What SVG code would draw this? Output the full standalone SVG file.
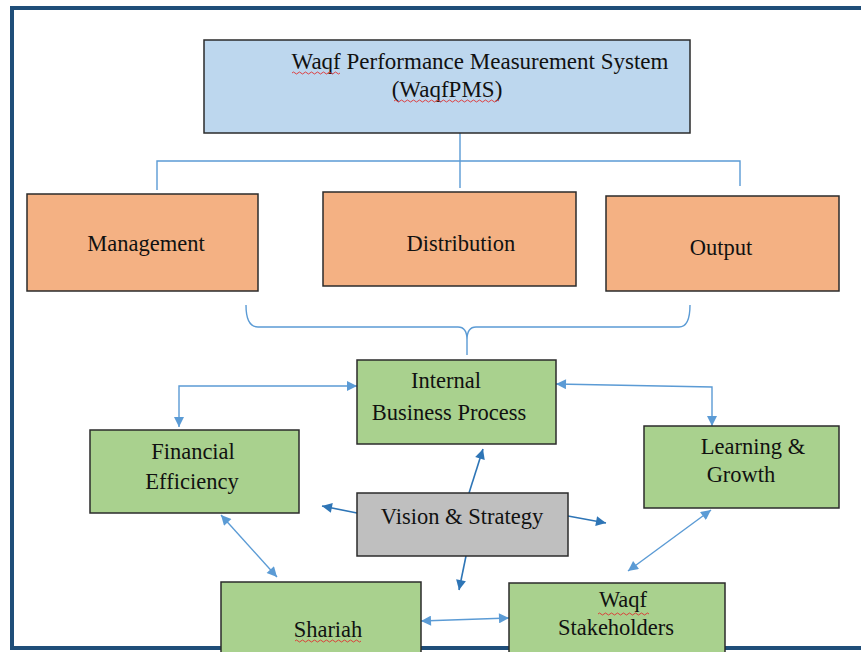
<svg xmlns="http://www.w3.org/2000/svg" width="861" height="652" viewBox="0 0 861 652">
  <style>
    .box { stroke: #2b2b2b; stroke-width: 1.5; }
    .blue { fill: #BDD7EE; }
    .orange { fill: #F4B183; }
    .green { fill: #A9D18E; }
    .grey { fill: #BFBFBF; }
    .label { font-family: "Liberation Serif", "Times New Roman", serif; font-size: 22.5px; fill: #111; text-anchor: middle; }
    .title { font-size: 23px; }
    .link { fill: none; stroke: #5B9BD5; stroke-width: 1.4; }
    .link-dark { fill: none; stroke: #2E75B6; stroke-width: 1.6; }
    .squiggle { fill: none; stroke: #E03030; stroke-width: 0.9; }
  </style>
  <defs>
    <marker id="arrowLight" viewBox="0 0 10 10" refX="10" refY="5" markerWidth="12" markerHeight="10" markerUnits="userSpaceOnUse" orient="auto-start-reverse">
      <path d="M0,0 L10,5 L0,10 z" fill="#5B9BD5"/>
    </marker>
    <marker id="arrowDark" viewBox="0 0 10 10" refX="10" refY="5" markerWidth="12" markerHeight="10" markerUnits="userSpaceOnUse" orient="auto">
      <path d="M0,0 L10,5 L0,10 z" fill="#2E75B6"/>
    </marker>
  </defs>

  <rect width="861" height="652" fill="#ffffff"/>

  <!-- outer frame -->
  <rect x="12" y="8" width="900" height="640" fill="none" stroke="#1F4E79" stroke-width="4"/>

  <!-- connectors -->
  <g id="connectors">
    <path class="link" d="M460,133 V188 M157,190 V161 H740 V186"/>
    <path class="link" d="M246,305 Q246,327 258,327 H458 Q467,327 467,340 V355 M467,340 Q467,327 476,327 H679 Q690,327 690,305"/>
    <path class="link" d="M179,427 V386 H357" marker-start="url(#arrowLight)" marker-end="url(#arrowLight)"/>
    <path class="link" d="M556,384 L712,387 V426" marker-start="url(#arrowLight)" marker-end="url(#arrowLight)"/>
    <path class="link" d="M221,515 L277,577" marker-start="url(#arrowLight)" marker-end="url(#arrowLight)"/>
    <path class="link" d="M421,621 L509,618" marker-start="url(#arrowLight)" marker-end="url(#arrowLight)"/>
    <path class="link" d="M711,510 L628,571" marker-start="url(#arrowLight)" marker-end="url(#arrowLight)"/>
    <path class="link-dark" d="M469,493 L483,449" marker-end="url(#arrowDark)"/>
    <path class="link-dark" d="M357,513 L322,506" marker-end="url(#arrowDark)"/>
    <path class="link-dark" d="M568,516 L606,523" marker-end="url(#arrowDark)"/>
    <path class="link-dark" d="M466,556 L459,590" marker-end="url(#arrowDark)"/>
  </g>

  <g id="waqfpms">
    <rect class="box blue" x="204" y="40" width="486" height="93"/>
    <text class="label title" x="480" y="69">Waqf Performance Measurement System</text>
    <text class="label title" x="447" y="97">(WaqfPMS)</text>
    <path class="squiggle" d="M292,73 q1.5,-2 3,0 t3,0 t3,0 t3,0 t3,0 t3,0 t3,0 t3,0 t3,0 t3,0 t3,0 t3,0 t3,0 t3,0 t3,0 t3,0"/>
    <path class="squiggle" d="M394,101 q1.5,-2 3,0 t3,0 t3,0 t3,0 t3,0 t3,0 t3,0 t3,0 t3,0 t3,0 t3,0 t3,0 t3,0 t3,0 t3,0 t3,0 t3,0 t3,0 t3,0 t3,0 t3,0 t3,0 t3,0 t3,0 t3,0 t3,0 t3,0 t3,0 t3,0 t3,0 t3,0 t3,0 t3,0 t3,0 t3,0"/>
  </g>

  <g id="management">
    <rect class="box orange" x="27" y="194" width="231" height="97"/>
    <text class="label" x="146" y="251">Management</text>
  </g>

  <g id="distribution">
    <rect class="box orange" x="323" y="192" width="253" height="94"/>
    <text class="label" x="461" y="251">Distribution</text>
  </g>

  <g id="output">
    <rect class="box orange" x="606" y="196" width="233" height="95"/>
    <text class="label" x="721" y="255">Output</text>
  </g>

  <g id="internal-business-process">
    <rect class="box green" x="357" y="360" width="199" height="84"/>
    <text class="label" x="446" y="388">Internal</text>
    <text class="label" x="449" y="420">Business Process</text>
  </g>

  <g id="financial-efficiency">
    <rect class="box green" x="90" y="430" width="209" height="83"/>
    <text class="label" x="193" y="459">Financial</text>
    <text class="label" x="192" y="489">Efficiency</text>
  </g>

  <g id="learning-growth">
    <rect class="box green" x="644" y="426" width="195" height="82"/>
    <text class="label" x="753" y="454">Learning &amp;</text>
    <text class="label" x="741" y="482">Growth</text>
  </g>

  <g id="vision-strategy">
    <rect class="box grey" x="357" y="493" width="211" height="63"/>
    <text class="label" x="462" y="524">Vision &amp; Strategy</text>
  </g>

  <g id="shariah">
    <rect class="box green" x="221" y="582" width="200" height="80"/>
    <text class="label" x="328" y="637">Shariah</text>
    <path class="squiggle" d="M295,641 q1.5,-2 3,0 t3,0 t3,0 t3,0 t3,0 t3,0 t3,0 t3,0 t3,0 t3,0 t3,0 t3,0 t3,0 t3,0 t3,0 t3,0 t3,0 t3,0 t3,0 t3,0 t3,0 t3,0"/>
  </g>

  <g id="waqf-stakeholders">
    <rect class="box green" x="509" y="583" width="216" height="80"/>
    <text class="label" x="623" y="607">Waqf</text>
    <text class="label" x="616" y="635">Stakeholders</text>
    <path class="squiggle" d="M598,614 q1.5,-2 3,0 t3,0 t3,0 t3,0 t3,0 t3,0 t3,0 t3,0 t3,0 t3,0 t3,0 t3,0 t3,0 t3,0 t3,0 t3,0 t3,0"/>
  </g>
</svg>
